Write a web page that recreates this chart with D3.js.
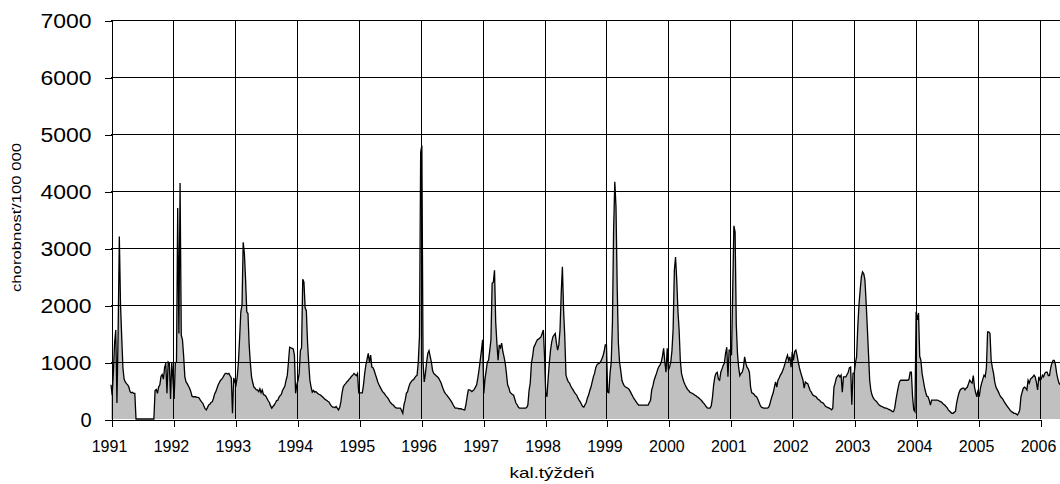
<!DOCTYPE html>
<html>
<head>
<meta charset="utf-8">
<script src="https://cdn.jsdelivr.net/npm/d3@7"></script>
<style>
  html, body { margin: 0; padding: 0; background: #fff; }
  svg { display: block; }
  text { font-family: "Liberation Sans", Arial, sans-serif; fill: #000; }
</style>
</head>
<body>
<svg id="chart" width="1060" height="484"></svg>
<script>
// ---- data (weekly values, chorobnosť / 100 000) ----
const yearLabels = ["1991","1992","1993","1994","1995","1996","1997","1998","1999","2000","2001","2002","2003","2004","2005","2006"];
const yTickValues = [0, 1000, 2000, 3000, 4000, 5000, 6000, 7000];
const yAxisTitle = "chorobnosť/100 000";
const xAxisTitle = "kal.týždeň";

const y1991 = [600,420,820,1330,1560,280,1560,3200,2000,1440,900,700,650,620,600,560,480,460,470,450,450,0,0,0,0,0,0,0,0,0,0,0,0,0,0,0,0,500,520,450,560,600,750,780,700,900,980,450,1000,980,350,1000];
const y1992 = [700,350,980,1000,3700,1500,4140,1470,1390,1100,740,650,620,580,540,480,400,390,390,390,380,380,370,330,300,280,230,180,160,200,245,260,290,300,360,440,480,540,600,640,680,700,730,770,800,800,790,800,760,720,100,720];
const y1993 = [650,600,740,1000,1420,1880,2000,3100,2900,2440,1880,1850,1300,980,740,640,560,540,510,510,480,530,460,510,430,420,400,360,320,290,230,190,220,245,280,320,330,380,410,430,500,540,580,680,760,1000,1260,1250,1240,1230,1120,450];
const y1994 = [600,680,800,1200,1250,2450,2400,1950,1900,1350,980,680,560,470,500,470,480,460,440,430,420,400,380,360,340,330,310,300,260,230,210,210,200,220,190,160,200,300,460,560,600,620,650,670,700,720,750,770,800,780,760,800];
const y1995 = [460,460,460,460,600,800,950,1050,1150,1000,1120,910,900,850,780,720,650,600,560,520,480,460,430,400,380,350,310,280,260,245,220,200,190,190,190,190,150,100,250,330,450,480,560,620,650,680,690,720,750,770,1000,1450];
const y1996 = [4680,4800,1000,650,800,1000,1150,1200,1100,1000,850,800,780,760,740,720,680,640,580,520,470,440,420,390,360,330,300,260,220,190,190,190,180,180,180,170,165,160,250,390,510,510,500,480,500,520,560,600,720,860,1030,1200];
const y1997 = [1390,450,700,850,1000,1030,1200,1390,2380,2400,2610,1700,1330,1030,1300,1250,1330,1180,1090,980,800,600,550,470,450,430,420,350,280,250,210,190,190,190,190,190,190,200,245,500,630,980,1100,1260,1300,1350,1390,1400,1420,1440,1500,1560];
const y1998 = [1100,460,390,700,980,1200,1350,1440,1470,1500,1330,1210,1300,1560,2200,2670,1910,1440,770,700,650,630,580,540,510,470,440,420,370,330,300,260,220,210,250,290,370,420,500,560,650,740,800,900,950,970,980,1000,1050,1100,1180,1300];
const y1999 = [1300,470,460,800,1000,1680,3310,4160,3720,2320,1330,1000,850,680,620,580,560,550,540,520,480,440,400,360,330,300,270,245,245,245,245,245,245,245,245,245,290,330,510,580,680,740,800,870,920,950,1000,1100,1240,1000,820,1240];
const y2000 = [860,910,1000,1200,1590,2610,2840,2440,1900,1560,1030,800,720,650,600,560,520,500,470,460,450,440,420,410,390,380,360,340,320,290,270,240,210,190,190,190,230,380,600,740,800,820,700,680,820,880,940,980,1150,1260,740,1210];
const y2001 = [1210,1120,2260,3390,3280,1650,1150,900,760,800,820,900,1090,980,910,880,820,560,460,450,430,400,390,350,300,245,210,200,190,190,190,190,200,245,330,400,460,560,650,560,680,720,770,800,850,910,980,1060,1120,1030,1090,910];
const y2002 = [1180,1030,1180,1210,1120,1000,900,820,750,680,540,650,630,620,560,500,470,430,410,400,390,360,340,330,300,290,280,250,220,210,200,190,180,160,190,560,630,720,750,770,740,770,470,740,740,740,780,820,900,910,250,800];
const y2003 = [800,980,1090,1610,2000,2260,2490,2580,2550,2440,2050,1610,1150,680,500,420,370,340,320,300,270,245,230,220,210,200,190,190,180,170,160,150,130,130,190,330,450,560,650,680,680,680,680,680,680,680,700,820,820,390,160,130];
const y2004 = [1880,1740,1860,1100,1030,800,680,560,470,400,390,330,245,330,330,330,330,330,330,320,310,300,280,260,245,220,200,160,140,120,100,100,120,130,280,380,460,510,530,540,540,510,540,560,620,680,650,630,760,560,460,390];
const y2005 = [510,390,540,630,700,770,740,900,1530,1530,1500,1030,900,800,650,560,520,480,430,390,370,340,300,270,240,210,180,150,130,120,100,100,90,70,100,160,390,470,540,560,540,510,680,630,700,720,740,770,740,640,510,740];
const y2006 = [680,700,770,740,800,820,820,760,760,900,980,1030,1030,950,800,700,630,600];

const weeksPerYear = 52;
const series = [].concat(y1991, y1992, y1993, y1994, y1995, y1996, y1997, y1998,
                         y1999, y2000, y2001, y2002, y2003, y2004, y2005, y2006);

// ---- layout ----
const W = 1060, H = 484;
const plotLeft = 111, plotTop = 20, plotBottom = 419;
const x2006 = 1040;

const svg = d3.select("#chart");

const x = d3.scaleLinear()
  .domain([0, (yearLabels.length - 1) * weeksPerYear])
  .range([plotLeft, x2006]);
const y = d3.scaleLinear().domain([0, 7000]).range([plotBottom, plotTop]);

const yearTicks = yearLabels.map((_, i) => i * weeksPerYear);

// area fill
const area = d3.area()
  .x((d, i) => x(i))
  .y0(y(0))
  .y1(d => y(d));
svg.append("path")
  .datum(series)
  .attr("d", area)
  .attr("fill", "#c0c0c0")
  .attr("stroke", "none");

// gridlines (drawn over the fill, as in the reference)
const grid = svg.append("g").attr("shape-rendering", "crispEdges");
grid.selectAll("line.h")
  .data(yTickValues.filter(v => v > 0))
  .join("line")
  .attr("class", "h")
  .attr("x1", plotLeft).attr("x2", W)
  .attr("y1", d => Math.round(y(d)) + 0.5).attr("y2", d => Math.round(y(d)) + 0.5)
  .attr("stroke", "#000").attr("stroke-width", 1);
grid.selectAll("line.v")
  .data(yearTicks.slice(1))
  .join("line")
  .attr("class", "v")
  .attr("x1", d => Math.round(x(d)) + 0.5).attr("x2", d => Math.round(x(d)) + 0.5)
  .attr("y1", plotTop).attr("y2", plotBottom)
  .attr("stroke", "#000").attr("stroke-width", 1);

// series outline
const line = d3.line().x((d, i) => x(i)).y(d => y(d));
svg.append("path")
  .datum(series)
  .attr("d", line)
  .attr("fill", "none")
  .attr("stroke", "#000")
  .attr("stroke-width", 1.3)
  .attr("stroke-linejoin", "miter");

// y axis
const yAxis = svg.append("g")
  .attr("transform", `translate(${plotLeft + 0.5},0)`)
  .attr("shape-rendering", "crispEdges")
  .call(d3.axisLeft(y).tickValues(yTickValues).tickSize(7).tickSizeOuter(0).tickFormat(d3.format("d")));
yAxis.select(".domain").attr("stroke", "#000");
yAxis.selectAll(".tick line").attr("stroke", "#000")
  .attr("transform", d => `translate(0,${Math.round(y(d)) + 0.5 - y(d)})`);
yAxis.selectAll(".tick text")
  .attr("x", -20)
  .attr("dy", "0.35em")
  .style("font-size", "20px")
  .style("font-family", "'Liberation Sans', Arial, sans-serif")
  .each(function(d) {
    const s = String(d);
    if (s.length > 1) {
      d3.select(this).attr("textLength", 51).attr("lengthAdjust", "spacingAndGlyphs");
    }
  });

// x axis
const xAxis = svg.append("g")
  .attr("transform", `translate(0,${plotBottom + 0.5})`)
  .attr("shape-rendering", "crispEdges")
  .call(d3.axisBottom(x).tickValues(yearTicks).tickSize(7).tickSizeOuter(0)
        .tickFormat((d, i) => yearLabels[i]));
xAxis.select(".domain").attr("stroke", "#000");
xAxis.selectAll(".tick line").attr("stroke", "#000")
  .attr("transform", d => `translate(${Math.round(x(d)) + 0.5 - x(d)},0)`);
xAxis.selectAll(".tick text")
  .attr("y", 32)
  .attr("dy", 0)
  .attr("x", -2)
  .style("font-size", "16px")
  .style("font-family", "'Liberation Sans', Arial, sans-serif");

// axis titles
svg.append("text")
  .attr("transform", `translate(21,217.5) rotate(-90)`)
  .attr("text-anchor", "middle")
  .attr("textLength", 149)
  .attr("lengthAdjust", "spacingAndGlyphs")
  .style("font-size", "13px")
  .text(yAxisTitle);

svg.append("text")
  .attr("x", 552)
  .attr("y", 478)
  .attr("text-anchor", "middle")
  .attr("textLength", 85)
  .attr("lengthAdjust", "spacingAndGlyphs")
  .style("font-size", "15px")
  .text(xAxisTitle);
</script>
</body>
</html>
